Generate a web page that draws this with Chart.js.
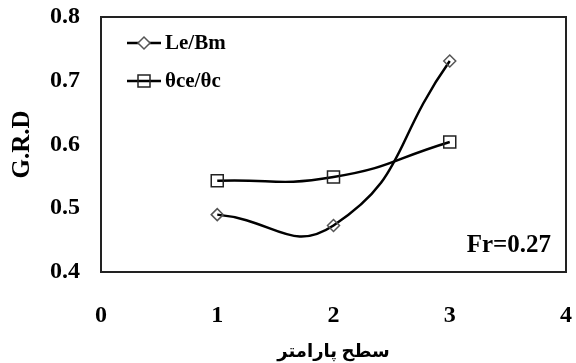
<!DOCTYPE html>
<html>
<head>
<meta charset="utf-8">
<script src="https://cdn.jsdelivr.net/npm/chart.js@4.4.1/dist/chart.umd.min.js"></script>
<style>
  html, body { margin: 0; padding: 0; background: #fff; }
  canvas { display: block; }
</style>
</head>
<body>
<canvas id="grdChart" width="576" height="363"></canvas>
<script>
// data
const levels = [1, 2, 3];
const leBm = [0.490, 0.473, 0.731];
const thetaRatio = [0.543, 0.549, 0.604];
const seriesNames = ['Le/Bm', 'θce/θc'];
const xRange = [0, 4];
const yRange = [0.4, 0.8];
const xTitle = 'سطح پارامتر';
const yTitle = 'G.R.D';
const note = 'Fr=0.27';

const serif = '"Liberation Serif", "Times New Roman", "DejaVu Sans", serif';

const toPoints = (ys) => levels.map((x, i) => ({ x: x, y: ys[i] }));

// frame around plot area + legend inside + Fr note
const framePlugin = {
    id: 'frame',
    afterDatasetsDraw(chart) {
        const { ctx, chartArea: a } = chart;
        ctx.save();
        ctx.strokeStyle = '#222';
        ctx.lineWidth = 2;
        ctx.strokeRect(a.left, a.top, a.right - a.left, a.bottom - a.top);

        // legend
        ctx.font = 'bold 21px ' + serif;
        ctx.textBaseline = 'middle';
        ctx.textAlign = 'left';
        chart.data.datasets.forEach((ds, i) => {
            const y = 43 + i * 38;
            ctx.strokeStyle = '#000';
            ctx.lineWidth = 2.5;
            ctx.beginPath();
            ctx.moveTo(127, y);
            ctx.lineTo(161, y);
            ctx.stroke();
            ctx.lineWidth = 1.5;
            ctx.strokeStyle = ds.pointBorderColor;
            ctx.beginPath();
            if (ds.pointStyle === 'rectRot') {
                ctx.fillStyle = '#fff';
                ctx.moveTo(144 - 6, y);
                ctx.lineTo(144, y - 6);
                ctx.lineTo(144 + 6, y);
                ctx.lineTo(144, y + 6);
                ctx.closePath();
                ctx.fill();
            } else {
                ctx.rect(138, y - 6, 12, 12);
            }
            ctx.stroke();
            ctx.fillStyle = '#000';
            ctx.fillText(ds.label, 165, y + 1);
        });

        // Fr note
        ctx.font = 'bold 25px ' + serif;
        ctx.textAlign = 'right';
        ctx.fillText(note, 551, 246);
        ctx.restore();
    }
};

const ctx = document.getElementById('grdChart').getContext('2d');

const grdChart = new Chart(ctx, {
    type: 'line',
    data: {
        datasets: [
            {
                label: seriesNames[0],
                data: toPoints(leBm),
                borderColor: '#000',
                borderWidth: 2.5,
                tension: 0.5,
                pointStyle: 'rectRot',
                pointRadius: 6,
                pointBorderWidth: 1.5,
                pointBorderColor: '#555',
                pointBackgroundColor: 'rgba(0,0,0,0)'
            },
            {
                label: seriesNames[1],
                data: toPoints(thetaRatio),
                borderColor: '#000',
                borderWidth: 2.5,
                tension: 0.5,
                pointStyle: 'rect',
                pointRadius: 8.5,
                pointBorderWidth: 1.5,
                pointBorderColor: '#222',
                pointBackgroundColor: 'rgba(0,0,0,0)'
            }
        ]
    },
    options: {
        responsive: false,
        animation: false,
        clip: false,
        layout: { padding: { top: 17, right: 1, left: 0, bottom: 0 } },
        plugins: {
            legend: { display: false },
            tooltip: { enabled: false }
        },
        scales: {
            x: {
                type: 'linear',
                min: xRange[0],
                max: xRange[1],
                grid: { display: false, drawTicks: false },
                border: { display: false },
                ticks: {
                    stepSize: 1,
                    padding: 29,
                    color: '#000',
                    font: { family: serif, size: 24, weight: 'bold' }
                },
                title: {
                    display: true,
                    text: xTitle,
                    color: '#000',
                    padding: { top: 0, bottom: 0 },
                    font: { family: serif, size: 18, weight: 'bold' }
                },
                afterFit(s) {
                    s.height = 91;
                    s.paddingLeft = 0;
                    s.paddingRight = 0;
                }
            },
            y: {
                min: yRange[0],
                max: yRange[1],
                grid: { display: false, drawTicks: false },
                border: { display: false },
                ticks: {
                    stepSize: 0.1,
                    padding: 21,
                    color: '#000',
                    font: { family: serif, size: 24, weight: 'bold' },
                    callback: (v) => v.toFixed(1)
                },
                title: {
                    display: true,
                    text: yTitle,
                    color: '#000',
                    padding: { top: 8, bottom: 0 },
                    font: { family: serif, size: 25, weight: 'bold' }
                },
                afterFit(s) {
                    s.width = 101;
                    s.paddingTop = 0;
                    s.paddingBottom = 0;
                }
            }
        }
    },
    plugins: [framePlugin]
});
</script>
</body>
</html>
